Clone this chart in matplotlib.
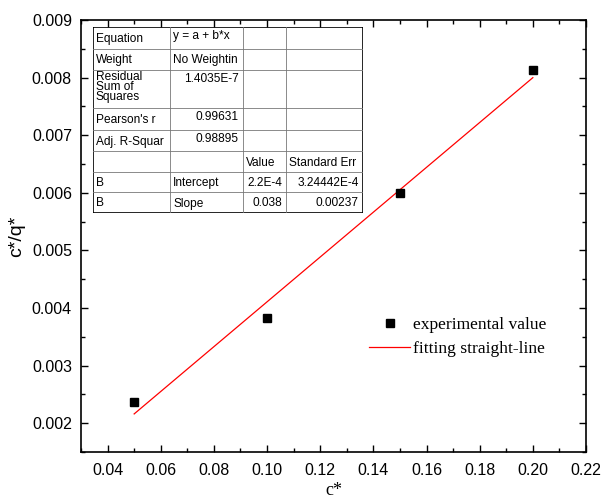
import matplotlib
matplotlib.use("Agg")
import matplotlib.pyplot as plt
import numpy as np
from matplotlib.ticker import MultipleLocator

c = [0.05, 0.10, 0.15, 0.20]
cq = [0.00237, 0.00382, 0.00600, 0.00813]

table_rows = [
    ["Equation", "y = a + b*x", "", ""],
    ["Weight", "No Weightin", "", ""],
    ["Residual\nSum of\nSquares", "1.4035E-7", "", ""],
    ["Pearson's r", "0.99631", "", ""],
    ["Adj. R-Squar", "0.98895", "", ""],
    ["", "", "Value", "Standard Err"],
    ["B", "Intercept", "2.2E-4", "3.24442E-4"],
    ["B", "Slope", "0.038", "0.00237"],
]

fig = plt.figure(figsize=(6.03, 4.99), dpi=100)
ax = fig.add_axes([81 / 603, 47 / 499, 505 / 603, 432 / 499])

ax.plot(c, cq, "s", color="black", markersize=6, label="experimental value", zorder=3)
b, a = np.polyfit(c, cq, 1)
xf = np.array([min(c), max(c)])
ax.plot(xf, a + b * xf, "-", color="red", lw=0.9, label="fitting straight-line")

ax.set_xlim(0.03, 0.22)
ax.set_ylim(0.0015, 0.009)
ax.xaxis.set_minor_locator(MultipleLocator(0.01))
ax.yaxis.set_minor_locator(MultipleLocator(0.0005))
xt = np.arange(0.04, 0.2201, 0.02)
yt = np.arange(0.002, 0.00901, 0.001)
ax.set_xticks(xt)
ax.set_xticklabels([f"{v:.2f}" for v in xt])
ax.set_yticks(yt)
ax.set_yticklabels([f"{v:.3f}" for v in yt])
ax.tick_params(which="both", direction="in", top=True, right=True, labelsize=11.5, width=1)
ax.tick_params(which="major", length=5)
ax.tick_params(axis="y", which="major", pad=6.5)
ax.tick_params(axis="x", which="major", pad=8)
ax.tick_params(which="minor", length=3)
for lab in ax.get_xticklabels() + ax.get_yticklabels():
    lab.set_fontfamily("Liberation Sans")
for s in ax.spines.values():
    s.set_linewidth(1.2)

ax.set_xlabel("c*", fontfamily="Liberation Serif", fontsize=13, labelpad=3)
ax.set_ylabel("c*/q*", fontfamily="Liberation Sans", fontsize=14, labelpad=5)

leg = ax.legend(loc="upper left", bbox_to_anchor=(0.54, 0.35), frameon=False,
                prop={"family": "Liberation Serif", "size": 12.6}, handlelength=2.3,
                handletextpad=0.2, labelspacing=0.45)

# results table (Origin style)
tab = fig.add_axes([93 / 603, (499 - 213) / 499, 270 / 603, 186 / 499])
tab.set_xlim(93, 363)
tab.set_ylim(213, 27)
tab.axis("off")
col_x = [93, 170, 243, 286, 363]
row_y = [27, 49, 70, 108, 130, 151, 172, 192, 213]
tab.plot([93, 363, 363, 93, 93], [27, 27, 213, 213, 27], color="black", lw=1.2)
for y in row_y[1:-1]:
    tab.plot([93, 363], [y, y], color="#777777", lw=0.6)
for x in col_x[1:-1]:
    tab.plot([x, x], [27, 213], color="#777777", lw=0.6)
for i, row in enumerate(table_rows):
    top, bot = row_y[i], row_y[i + 1]
    for j, txt in enumerate(row):
        if not txt:
            continue
        if i == 2 and j == 0:
            y, va = top + 1, "top"
        elif (i == 0 and j == 1) or (i in (2, 3, 4) and j == 1):
            y, va = top + 3, "top"
        else:
            y, va = (top + bot) / 2 + 1, "center"
        right = (i in (2, 3, 4) and j == 1) or (i >= 6 and j >= 2)
        if right:
            tab.text(col_x[j + 1] - 4, y, txt, ha="right", va=va,
                     fontsize=8.6, fontfamily="Liberation Sans", linespacing=0.8)
        else:
            tab.text(col_x[j] + 3, y, txt, ha="left", va=va,
                     fontsize=8.6, fontfamily="Liberation Sans", linespacing=0.8)

fig.savefig("out.png", dpi=100)
